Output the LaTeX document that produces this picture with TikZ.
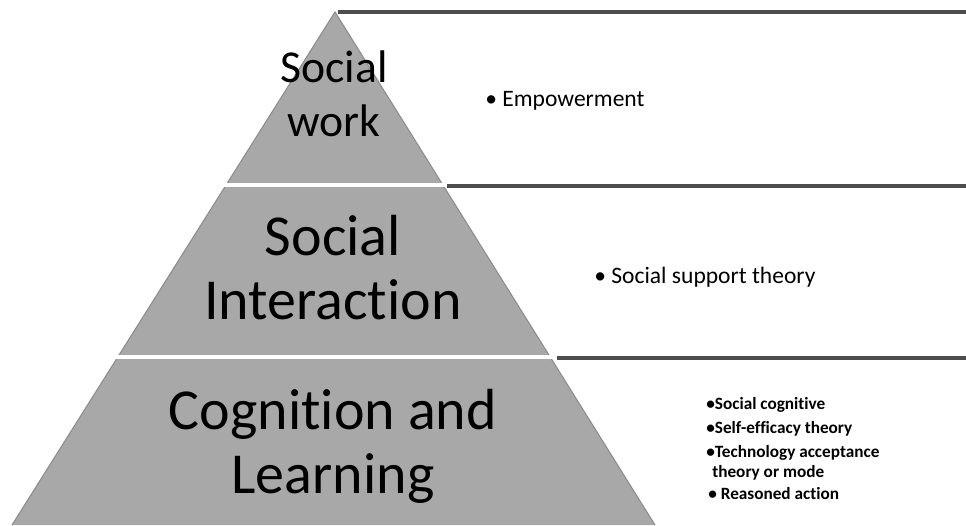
\documentclass[tikz,border=0pt]{standalone}
\usepackage{fontspec}
\setmainfont[Ligatures=NoCommon]{Carlito}
\definecolor{pyrgray}{HTML}{A8A8A8}
\definecolor{rulegray}{HTML}{4D4D4D}
\tikzset{lvl/.style={align=center,font=\fontsize{33}{36.5}\selectfont},
  thy/.style={anchor=base west,inner sep=0pt,font=\fontsize{13.4}{16}\selectfont},
  thysmall/.style={anchor=base west,inner sep=0pt,font=\bfseries\fontsize{9.8}{12}\selectfont},
  sepline/.style={rulegray,line width=2pt}}

\begin{document}
\begin{tikzpicture}[x=0.02cm,y=-0.02cm]
  \useasboundingbox (0,0) rectangle (966,525);

  \coordinate (apex) at (335,12);
  \coordinate (bl)   at (12,525);
  \coordinate (br)   at (655,525);

  % pyramid, cut in three bands
  \fill[pyrgray] (apex) -- (bl) -- (br) -- cycle;
  \draw[black!45,line width=0.6pt] (bl) -- (apex) -- (br);
  \fill[white] (0,183) rectangle (700,187);
  \fill[white] (0,355) rectangle (700,359);

  \draw[sepline] (338,12)  -- (966,12);
  \draw[sepline] (447,186) -- (966,186);
  \draw[sepline] (557,358) -- (966,358);

  \node[lvl,font=\fontsize{26}{30.6}\selectfont] (work) at (334,94) {Social\\work};
  \node[lvl] (inter) at (333,268) {Social\\Interaction};
  \node[lvl] (cogn)  at (333,446) {Cognition and\\Learning};

  \node[thy] (empow) at (485,106) {•~Empowerment};
  \node[thy] (supp)  at (594,283) {•~Social support theory};

  \node[thysmall] (scog) at (706,409) {•Social cognitive};
  \node[thysmall] (seff) at (706,433) {•Self-efficacy theory};
  \node[thysmall] (tam)  at (706,457) {•Technology acceptance};
  \node[thysmall] (tamb) at (712,477) {theory or mode};
  \node[thysmall] (reas) at (708,499) {•~Reasoned action};
\end{tikzpicture}
\end{document}
